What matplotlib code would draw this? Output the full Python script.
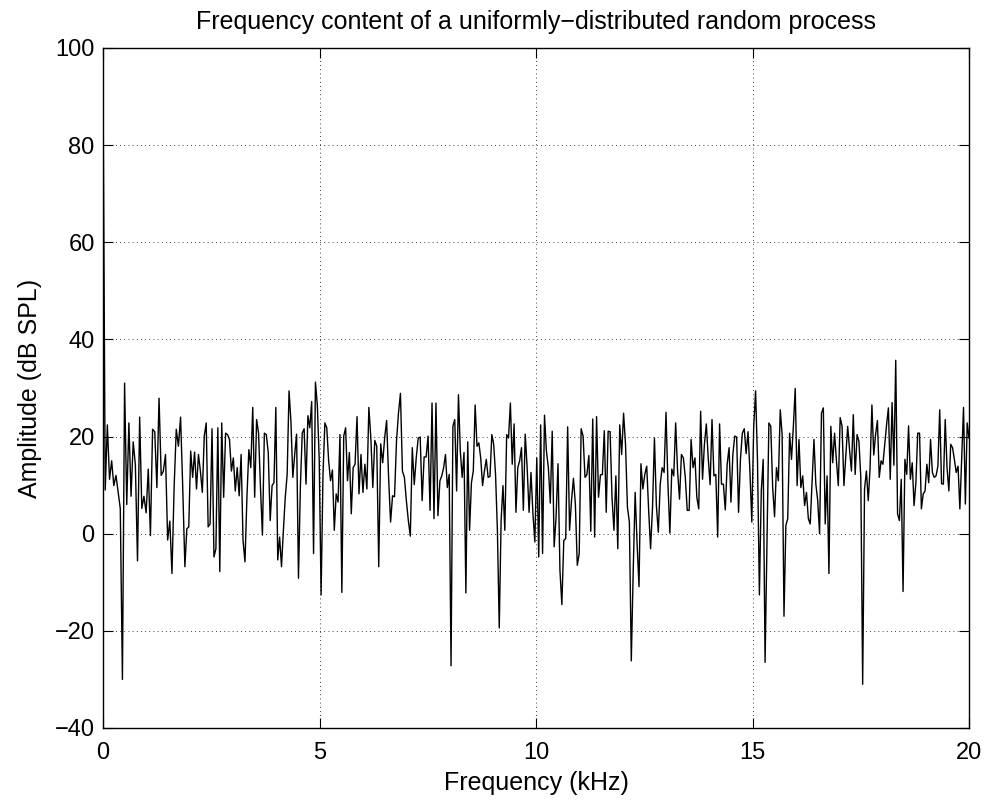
import numpy as np
import matplotlib
matplotlib.use("Agg")
import matplotlib.pyplot as plt

# amplitude (dB SPL), low to high frequency,
# one list per stretch of the frequency axis
amp_0_2k = [92.4, 9.0, 22.4, 11.2, 15.0, 9.9, 12.0, 8.6, 5.2, -30.0,
            31.0, 6.0, 22.8, 7.7, 18.9, 14.2, -5.6, 24.0, 5.2, 7.7,
            4.3, 13.3, -0.4, 21.5, 21.0, 9.5, 27.9, 12.0, 12.9, 16.3,
            -1.3, 2.6, -8.2, 9.5, 21.5, 18.0, 24.0, 9.5]
amp_2_4k = [-6.8, 1.0, 1.4, 17.0, 11.6, 16.8, 9.2, 16.3, 12.9, 8.5,
            20.1, 22.8, 1.4, 2.0, 21.6, -4.8, -3.1, 21.8, -7.8, 22.8,
            7.5, 20.7, 20.4, 19.4, 12.9, 15.6, 8.8, 13.6, 7.8, 16.3,
            -1.4, -5.8, 7.5, 17.3, 13.6, 26.0, 7.5, 23.5, 20.7, 9.5,
            -0.3, 20.7, 20.4, 16.7]
amp_4_6k = [2.7, 9.9, 10.5, 26.0, -5.4, -0.7, -6.8, 0.7, 7.5, 12.2,
            29.4, 23.1, 11.6, 16.3, 20.5, -9.2, 9.5, 20.7, 21.6, 10.2,
            24.3, 21.8, 27.2, -4.1, 31.2, 26.5, 15.3, -12.6, 12.2, 22.8,
            21.8, 15.0, 10.9, 13.1, 0.7, 8.2, 6.5, 20.4, -12.1, 20.1,
            21.8, 10.9, 16.7, 4.1, 13.6]
amp_6_8k = [14.3, 24.1, 8.2, 16.3, 8.5, 14.3, 9.2, 26.0, 19.7, 9.5,
            19.2, 18.0, -6.8, 18.5, 14.6, 19.7, 23.3, 11.6, 2.4, 7.8,
            7.6, 19.0, 24.8, 28.9, 12.9, 11.6, 6.8, 2.7, -0.5, 17.7,
            10.1, 15.6, 19.7, 19.9, 6.8, 15.8, 15.8, 20.1, 4.8, 26.9,
            3.1, 26.9, 3.7]
amp_8_10k = [10.9, 11.9, 13.6, 16.3, 9.5, 12.2, -27.2, 22.1, 23.5, 8.8,
             28.6, 17.0, 11.6, 16.7, -12.2, 18.9, 0.7, 10.5, 12.9, 26.5,
             18.0, 18.7, 15.6, 9.9, 12.9, 15.3, 11.6, 11.8, 20.4, 18.4,
             12.2, 0.7, -19.4, 2.7, 9.9, 0.7, 20.4, 19.7, 26.9, 14.3,
             22.6, 4.4, 13.6, 15.0, 17.7, 4.8]
amp_10_12k = [20.5, 13.6, 4.4, 12.6, 4.1, -1.7, 15.6, -4.8, 22.4, -4.1,
              24.4, 17.0, 13.6, 6.3, 21.1, -2.7, 3.4, 14.4, -7.5, -14.6,
              -1.4, -1.0, 22.0, 0.7, 6.8, 11.4, 6.1, -6.5, -4.1, 21.6,
              20.1, 11.6, 12.2, 16.1, 0.5, 23.6, -0.7, 24.1, 7.5, 12.1,
              12.2, 21.2, 4.4, 21.1]
amp_12_14k = [21.0, 7.5, 0.7, 11.9, -3.1, 22.4, 16.3, 24.8, 18.4, 5.4,
              2.4, -26.2, -7.5, 8.5, -2.0, -10.9, 14.4, 9.2, 12.2, 13.9,
              4.8, -3.1, 5.4, 19.7, 5.8, 0.3, 10.2, 13.6, 12.6, 25.0,
              10.2, 0.1, 13.3, 11.9, 22.8, 12.9, 7.1, 16.3, 15.6, 11.6,
              4.8, 4.8, 19.4, 13.6]
amp_14_16k = [15.6, 7.5, 5.1, 25.2, 11.2, 18.4, 22.6, 15.6, 10.1, 23.5,
              11.9, 12.2, -0.7, 22.6, 10.2, 10.2, 4.9, 14.3, 17.7, 6.5,
              16.3, 20.1, 19.9, 4.4, 15.3, 20.7, 21.6, 16.5, 21.0, 12.9,
              2.4, 22.1, 29.4, 15.0, -12.6, 8.8, 15.3, -26.5, -1.4, 22.8,
              22.1, 9.5, 3.5, 13.6, 10.9]
amp_16_18k = [25.5, 20.4, -17.0, 1.7, 3.1, 20.7, 15.3, 22.1, 29.9, 9.9,
              19.4, 9.5, 11.9, 5.8, 8.5, 3.1, 2.0, 10.9, 19.4, 10.2,
              6.8, 0.0, 24.8, 25.9, 2.0, 11.9, -8.2, 22.1, 14.6, 20.7,
              15.0, 9.9, 23.9, 22.1, 9.9, 16.0, 22.1, 17.3, 12.9, 24.5,
              12.2, 20.4, 19.0, 11.6, -31.0, 9.2]
amp_18_20k = [12.9, 6.8, 13.6, 26.5, 16.2, 20.4, 23.3, 11.6, 15.0, 14.3,
              18.4, 22.4, 25.9, 11.2, 27.0, 14.1, 35.7, 4.1, 2.7, 11.2,
              -11.9, 15.3, 12.2, 22.2, 11.2, 14.6, 5.8, 10.5, 20.7, 20.7,
              5.1, 8.2, 8.8, 14.3, 10.5, 19.4, 12.6, 11.6, 11.9, 13.9,
              25.5, 10.3, 10.2, 23.5, 13.6, 8.8, 18.4, 17.7, 15.3, 12.6,
              13.9, 5.1, 15.3, 26.0, 6.1, 22.8, 19.7]

# frequency (kHz) where each stretch above starts, plus the end of the axis
stretch_start_khz = [0.0, 1.89, 3.86, 5.82, 7.78, 9.75, 11.71, 13.67,
                     15.64, 17.63, 20.0]

x_ticks = [0, 5, 10, 15, 20]
y_ticks = [-40, -20, 0, 20, 40, 60, 80, 100]


def main():
    stretches = [amp_0_2k, amp_2_4k, amp_4_6k, amp_6_8k, amp_8_10k,
                 amp_10_12k, amp_12_14k, amp_14_16k, amp_16_18k, amp_18_20k]
    freq_parts = []
    for k, part in enumerate(stretches):
        last = k == len(stretches) - 1
        freq_parts.append(np.linspace(stretch_start_khz[k],
                                      stretch_start_khz[k + 1],
                                      len(part), endpoint=last))
    freq = np.concatenate(freq_parts)
    amp = np.concatenate(stretches)

    plt.rcParams["font.family"] = ["Liberation Sans", "DejaVu Sans"]

    fig = plt.figure(figsize=(9.88, 8.05), dpi=100)
    ax = fig.add_axes([0.1043, 0.0957, 0.8765, 0.8447])

    ax.plot(freq, amp, color="black", linewidth=1.0)

    ax.set_xlim(0, 20)
    ax.set_ylim(-40, 100)
    ax.set_xticks(x_ticks)
    ax.set_yticks(y_ticks)
    ax.grid(True, color="black", linestyle=(0, (1, 4)), linewidth=0.6)
    ax.tick_params(direction="in", top=True, right=True, length=7,
                   width=0.8, labelsize=17)
    ax.tick_params(axis="x", pad=10)
    ax.tick_params(axis="y", pad=6)
    for sp in ax.spines.values():
        sp.set_linewidth(1.0)

    ax.set_xlabel("Frequency (kHz)", fontsize=18, labelpad=5)
    ax.set_ylabel("Amplitude (dB SPL)", fontsize=18, labelpad=9)
    ax.set_title("Frequency content of a uniformly\u2212distributed random process",
                 fontsize=18, pad=14)

    fig.savefig("out.png", dpi=100, facecolor="white")


if __name__ == "__main__":
    main()
